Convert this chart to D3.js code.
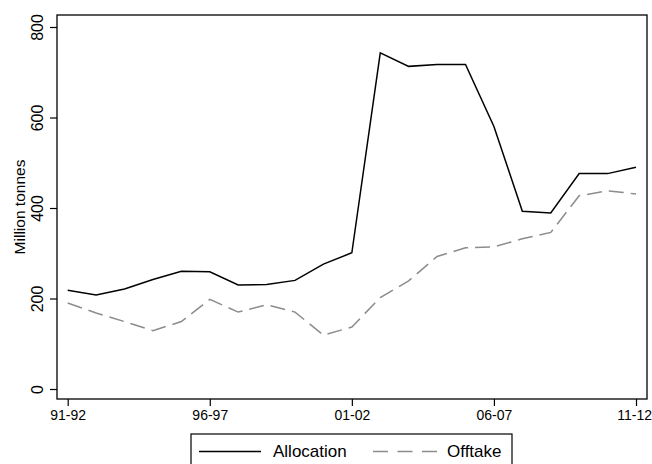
<!DOCTYPE html>
<html>
<head>
<meta charset="utf-8">
<script src="https://cdn.jsdelivr.net/npm/d3@7"></script>
<style>
  body { margin: 0; background: #fff; }
  text { font-family: "Liberation Sans", Arial, sans-serif; fill: #000; }
</style>
</head>
<body>
<div class="main"></div>
<script>
let years = ['91-92','92-93','93-94','94-95','95-96','96-97','97-98','98-99','99-00','00-01',
             '01-02','02-03','03-04','04-05','05-06','06-07','07-08','08-09','09-10','10-11','11-12']
let allocation = [218, 208, 221, 242, 260, 259, 230, 231, 240, 276, 301,
                  743, 713, 717, 717, 580, 393, 389, 476, 476, 490]
let offtake = [190, 168, 149, 129, 149, 198, 170, 186, 170, 119, 137,
               202, 239, 293, 312, 314, 332, 346, 427, 438, 431]
let xTicks = ['91-92', '96-97', '01-02', '06-07', '11-12']
let yTicks = [0, 200, 400, 600, 800]

let width = 652, height = 464
let frame = {left: 57, right: 647, top: 15, bottom: 399}

let svg = d3.select('.main').append('svg')
  .attr('width', width)
  .attr('height', height)

let xScale = d3.scalePoint()
  .domain(years)
  .range([67.7, 636])

let yScale = d3.scaleLinear()
  .domain([0, 800])
  .range([389, 27])

// plot frame
svg.append('rect')
  .attr('x', frame.left)
  .attr('y', frame.top)
  .attr('width', frame.right - frame.left)
  .attr('height', frame.bottom - frame.top)
  .attr('fill', 'none')
  .attr('stroke', '#000')
  .attr('stroke-width', 1.3)

let yAxis = d3.axisLeft(yScale).tickValues(yTicks).tickSize(7)
let gy = svg.append('g')
  .attr('transform', `translate(${frame.left}, 0)`)
  .call(yAxis)
gy.select('.domain').remove()
gy.selectAll('.tick line').attr('stroke', '#000').attr('stroke-width', 1.2)
gy.selectAll('.tick text')
  .style('font-size', '16px')
  .attr('transform', 'rotate(-90)')
  .attr('x', 0)
  .attr('y', -14)
  .attr('dy', 0)
  .attr('text-anchor', 'middle')

let xAxis = d3.axisBottom(xScale).tickValues(xTicks).tickSize(7).tickPadding(4)
let gx = svg.append('g')
  .attr('transform', `translate(0, ${frame.bottom})`)
  .call(xAxis)
gx.select('.domain').remove()
gx.selectAll('.tick line').attr('stroke', '#000').attr('stroke-width', 1.2)
gx.selectAll('.tick text')
  .style('font-size', '14px')
gx.selectAll('.tick text').filter(d => d == '11-12')
  .attr('text-anchor', 'end')
  .attr('x', 15.5)

svg.append('text')
  .attr('transform', 'translate(25, 207) rotate(-90)')
  .attr('text-anchor', 'middle')
  .style('font-size', '15.5px')
  .text('Million tonnes')

let line = d3.line()
  .x((d, i) => xScale(years[i]))
  .y(d => yScale(d))

svg.append('path')
  .datum(offtake)
  .attr('d', line)
  .attr('fill', 'none')
  .attr('stroke', '#8c8c8c')
  .attr('stroke-width', 1.5)
  .attr('stroke-dasharray', '15,7')

svg.append('path')
  .datum(allocation)
  .attr('d', line)
  .attr('fill', 'none')
  .attr('stroke', '#000')
  .attr('stroke-width', 1.5)

// legend
let legend = svg.append('g')
legend.append('rect')
  .attr('x', 191)
  .attr('y', 434)
  .attr('width', 321)
  .attr('height', 40)
  .attr('fill', '#fff')
  .attr('stroke', '#000')
  .attr('stroke-width', 1.2)
legend.append('line')
  .attr('x1', 199).attr('x2', 261).attr('y1', 451.5).attr('y2', 451.5)
  .attr('stroke', '#000').attr('stroke-width', 1.5)
legend.append('text')
  .attr('x', 273).attr('y', 457)
  .style('font-size', '17px')
  .text('Allocation')
legend.append('line')
  .attr('x1', 373).attr('x2', 437).attr('y1', 451.5).attr('y2', 451.5)
  .attr('stroke', '#8c8c8c').attr('stroke-width', 1.5)
  .attr('stroke-dasharray', '15,9.5')
legend.append('text')
  .attr('x', 447).attr('y', 457)
  .style('font-size', '17px')
  .text('Offtake')
</script>
</body>
</html>
